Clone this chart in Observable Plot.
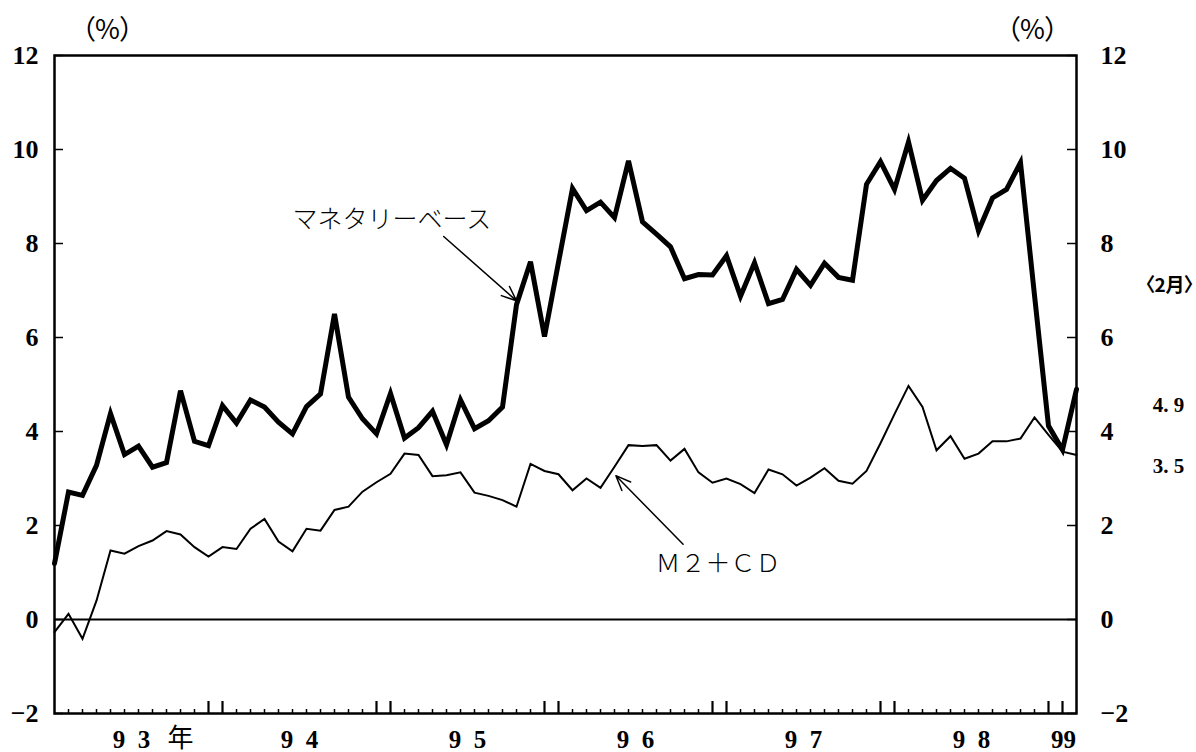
<!DOCTYPE html>
<html>
<head>
<meta charset="utf-8">
<script src="https://cdn.jsdelivr.net/npm/d3@7"></script>
<script src="https://cdn.jsdelivr.net/npm/@observablehq/plot@0.6"></script>
<style>
  html, body { margin: 0; padding: 0; background: #fff; }
  #chart svg { display: block; }
  #chart text.narrow-punct { font-feature-settings: "palt"; }
</style>
</head>
<body>
<div id="chart"></div>
<script>
// Monthly observations, January 1993 – February 1999 (year-on-year % change)
const months = d3.utcMonths(new Date(Date.UTC(1993, 0, 1)), new Date(Date.UTC(1999, 2, 1)));

// マネタリーベース (monetary base)
const monetaryBase = [
  1.19, 2.71, 2.64, 3.28, 4.38, 3.51, 3.69, 3.24, 3.34, 4.87, 3.79, 3.70,
  4.55, 4.18, 4.67, 4.52, 4.20, 3.95, 4.53, 4.80, 6.50, 4.73, 4.27, 3.95,
  4.81, 3.86, 4.08, 4.43, 3.72, 4.67, 4.06, 4.23, 4.52, 6.70, 7.61, 6.02,
  7.60, 9.17, 8.70, 8.88, 8.55, 9.76, 8.46, 8.20, 7.93, 7.25, 7.34, 7.33,
  7.74, 6.88, 7.59, 6.72, 6.81, 7.45, 7.11, 7.58, 7.28, 7.22, 9.26, 9.74,
  9.15, 10.16, 8.92, 9.34, 9.60, 9.39, 8.27, 8.97, 9.15, 9.72, 6.90, 4.12,
  3.61, 4.9
];

// Ｍ２＋ＣＤ (money stock)
const m2cd = [
  -0.27, 0.12, -0.41, 0.40, 1.47, 1.40, 1.56, 1.68, 1.88, 1.81, 1.54, 1.34,
  1.54, 1.50, 1.93, 2.14, 1.66, 1.45, 1.93, 1.89, 2.33, 2.40, 2.72, 2.92,
  3.10, 3.53, 3.50, 3.05, 3.07, 3.13, 2.70, 2.63, 2.54, 2.40, 3.31, 3.16,
  3.09, 2.75, 3.00, 2.80, 3.25, 3.71, 3.69, 3.71, 3.38, 3.63, 3.13, 2.91,
  3.00, 2.88, 2.69, 3.19, 3.09, 2.85, 3.02, 3.22, 2.95, 2.89, 3.16, 3.75,
  4.37, 4.97, 4.52, 3.60, 3.90, 3.42, 3.53, 3.79, 3.79, 3.85, 4.30, 3.93,
  3.57, 3.5
];

const yTicks = [-2, 0, 2, 4, 6, 8, 10, 12];
const yearLabels = ["9\u20023", "9\u20024", "9\u20025", "9\u20026", "9\u20027", "9\u20028", "99"];
const yearSuffix = "年";
const unitLabel = "（%）";
const latestHeader = "〈2月〉";
const seriesNames = ["マネタリーベース", "Ｍ２＋ＣＤ"];

// Callout placement in data units (month index, percent)
const calloutTextX = [24.1, 47.4];
const calloutTextY = [8.49, 1.19];
const calloutArrowFromX = [27.8, 44.9];
const calloutArrowFromY = [8.15, 1.60];
const calloutArrowToX = [33.0, 40.1];
const calloutArrowToY = [6.78, 3.06];

// ---- derived tables ----
const last = months.length - 1;
const rows = months.map((m, i) => ({i, date: m, mb: monetaryBase[i], m2: m2cd[i]}));

// Tall ticks on December and January, short ticks on the other months
const tallTicks = rows.filter(d => d.i > 0 && (d.date.getUTCMonth() === 11 || d.date.getUTCMonth() === 0)).map(d => d.i);
const shortTicks = rows.filter(d => d.i > 0 && d.i < last && !tallTicks.includes(d.i)).map(d => d.i);

// Year labels centred on the months of each year
const yearGroups = d3.groups(rows, d => d.date.getUTCFullYear());
const yearRows = yearGroups.map(([y, ms], k) => ({label: yearLabels[k], x: d3.mean(ms, d => d.i)}));
const fullYears = yearRows.slice(0, -1);
const partialYear = yearRows.slice(-1);

const fmtLatest = v => v.toFixed(1).replace(".", ". ");

const callouts = seriesNames.map((name, k) => ({
  name,
  tx: calloutTextX[k], ty: calloutTextY[k],
  x1: calloutArrowFromX[k], y1: calloutArrowFromY[k],
  x2: calloutArrowToX[k], y2: calloutArrowToY[k]
}));

const W = 1196, H = 752;
const mL = 54, mR = 120, mT = 55, mB = 39;
const plotW = W - mL - mR, plotH = H - mT - mB;

const numFont = "'Liberation Serif', 'DejaVu Serif', serif";
const jpFont = "'Noto Sans CJK JP', sans-serif";

const yearLabelStyle = {
  text: "label", frameAnchor: "bottom", dy: 26, lineAnchor: "middle",
  fontSize: 25, fontWeight: "bold", fontFamily: numFont
};

const chart = Plot.plot({
  width: W,
  height: H,
  marginLeft: mL,
  marginRight: mR,
  marginTop: mT,
  marginBottom: mB,
  x: {domain: [0, last], axis: null},
  y: {domain: [-2, 12], axis: null},
  style: {background: "#fff", color: "#000", fontFamily: numFont, overflow: "visible"},
  marks: [
    // zero line
    Plot.ruleY([0], {stroke: "#000", strokeWidth: 2}),
    // month ticks along the bottom, pointing inward
    Plot.tickX(shortTicks, {x: d => d, insetTop: plotH - 4, stroke: "#000", strokeWidth: 1.5}),
    Plot.tickX(tallTicks, {x: d => d, insetTop: plotH - 12, stroke: "#000", strokeWidth: 2.2}),
    // value ticks on both sides, pointing inward
    Plot.tickY(yTicks, {y: d => d, insetRight: plotW - 9, stroke: "#000", strokeWidth: 1.5}),
    Plot.tickY(yTicks, {y: d => d, insetLeft: plotW - 9, stroke: "#000", strokeWidth: 1.5}),
    // series
    Plot.line(rows, {x: "i", y: "m2", stroke: "#000", strokeWidth: 2, strokeLinejoin: "miter", strokeMiterlimit: 4}),
    Plot.line(rows, {x: "i", y: "mb", stroke: "#000", strokeWidth: 5, strokeLinejoin: "miter", strokeMiterlimit: 4}),
    Plot.frame({stroke: "#000", strokeWidth: 2.5}),
    // value labels, left and right
    Plot.text(yTicks, {
      y: d => d, text: d => d < 0 ? "−" + Math.abs(d) : String(d),
      frameAnchor: "left", dx: -16, textAnchor: "end",
      fontSize: 26, fontWeight: "bold", fontFamily: numFont
    }),
    Plot.text(yTicks, {
      y: d => d, text: d => d < 0 ? "−" + Math.abs(d) : String(d),
      frameAnchor: "right", dx: 24, textAnchor: "start",
      fontSize: 26, fontWeight: "bold", fontFamily: numFont
    }),
    // year labels
    Plot.text(fullYears, {x: "x", ...yearLabelStyle}),
    Plot.text(partialYear, {x: "x", dx: -6, ...yearLabelStyle}),
    Plot.text([yearSuffix], {
      x: yearRows[0].x, text: d => d, frameAnchor: "bottom", dx: 49, dy: 25, lineAnchor: "middle",
      fontSize: 26, fontFamily: jpFont
    }),
    // unit labels
    Plot.text([unitLabel], {
      frameAnchor: "top-left", text: d => d, dx: 53, dy: -25, textAnchor: "middle", lineAnchor: "middle",
      fontSize: 27, fontFamily: jpFont
    }),
    Plot.text([unitLabel], {
      frameAnchor: "top-right", text: d => d, dx: -44, dy: -25, textAnchor: "middle", lineAnchor: "middle",
      fontSize: 27, fontFamily: jpFont
    }),
    // latest month readings
    Plot.text([latestHeader], {
      frameAnchor: "top-right", text: d => d, dx: 93, dy: 230, textAnchor: "middle", lineAnchor: "middle",
      fontSize: 19, fontWeight: "bold", fontFamily: jpFont
    }),
    Plot.text([monetaryBase[last]], {
      x: last, y: d => d, text: fmtLatest, dx: 92, dy: 16, textAnchor: "middle", lineAnchor: "middle",
      fontSize: 21, fontWeight: "bold", fontFamily: numFont
    }),
    Plot.text([m2cd[last]], {
      x: last, y: d => d, text: fmtLatest, dx: 92, dy: 11, textAnchor: "middle", lineAnchor: "middle",
      fontSize: 21, fontWeight: "bold", fontFamily: numFont
    }),
    // callouts
    Plot.arrow(callouts, {
      x1: "x1", y1: "y1", x2: "x2", y2: "y2",
      stroke: "#000", strokeWidth: 1.5, headLength: 16, headAngle: 45
    }),
    Plot.text(callouts, {
      x: "tx", y: "ty", text: "name", textAnchor: "middle", lineAnchor: "middle",
      fontSize: 25, fontWeight: 300, fontFamily: jpFont
    })
  ]
});

// Proportional punctuation so the brackets hug the text they enclose
chart.querySelectorAll("text").forEach(t => {
  if (t.textContent === latestHeader || t.textContent === unitLabel) t.classList.add("narrow-punct");
});

document.getElementById("chart").appendChild(chart);
</script>
</body>
</html>
